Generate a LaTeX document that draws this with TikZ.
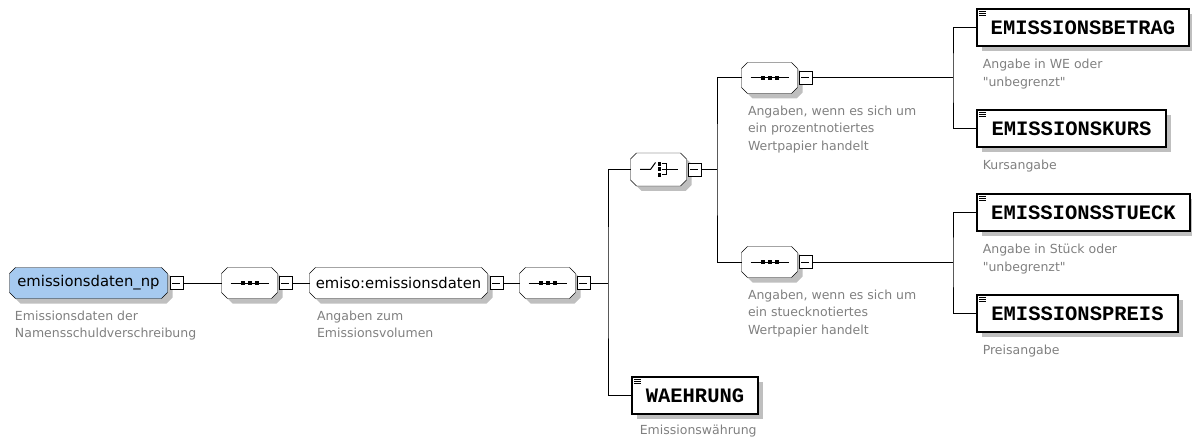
\documentclass[tikz,border=0pt]{standalone}
\usepackage{fontspec}
\setmainfont{DejaVu Sans}
\newfontfamily\elemfont{Liberation Mono}
\usetikzlibrary{positioning}
\usetikzlibrary{shadows}
\usetikzlibrary{backgrounds}
\usetikzlibrary{calc}
\definecolor{npblue}{RGB}{166,202,240}
\definecolor{notegray}{RGB}{128,128,128}
\newcommand{\octpath}[2]{([shift={#2},xshift=6pt]#1.north west) -- ([shift={#2},xshift=-6pt]#1.north east)
  -- ([shift={#2},yshift=-6pt]#1.north east) -- ([shift={#2},yshift=6pt]#1.south east)
  -- ([shift={#2},xshift=-6pt]#1.south east) -- ([shift={#2},xshift=6pt]#1.south west)
  -- ([shift={#2},yshift=6pt]#1.south west) -- ([shift={#2},yshift=-6pt]#1.north west) -- cycle}
\tikzset{
  shade/.style={drop shadow={shadow xshift=5pt,shadow yshift=-5pt,fill=black!25,opacity=1}},
  grp/.style={rectangle,minimum height=30pt,inner sep=0pt,font=\fontsize{14.8}{17}\selectfont},
  compositor/.style={grp,minimum width=55pt},
  minus/.style={draw,fill=white,line width=0.8pt,minimum size=13pt,inner sep=0pt},
  elem/.style={draw,fill=white,line width=1.4pt,minimum height=37pt,inner sep=0pt,
    font=\elemfont\bfseries\fontsize{20.5}{22}\selectfont,shade},
  note/.style={text=notegray,align=left,inner sep=0pt,font=\fontsize{12.5}{17.5}\selectfont},
}
\begin{document}
\begin{tikzpicture}[x=1pt,y=-1pt,line width=1pt]
  \useasboundingbox (0,0) rectangle (1192,441);
  \node[grp,minimum width=157pt] (np) at (88.5,283) {emissionsdaten\_np};
  \node[minus] (np-m) [right=2pt of np] {};
  \node[compositor] (seq1) at (249.5,283) {};
  \node[minus] (seq1-m) [right=1pt of seq1] {};
  \node[grp,minimum width=177pt] (emiso) at (398.5,283) {emiso:emissionsdaten};
  \node[minus] (emiso-m) [right=2pt of emiso] {};
  \node[compositor] (seq2) at (547.5,283) {};
  \node[minus] (seq2-m) [right=1pt of seq2] {};
  \node[compositor,minimum height=32pt] (choice) at (658.5,169.5) {};
  \node[minus] (choice-m) [right=1pt of choice] {};
  \node[compositor] (seqA) at (769.5,78) {};
  \node[minus] (seqA-m) [right=1pt of seqA] {};
  \node[compositor] (seqB) at (769.5,262) {};
  \node[minus] (seqB-m) [right=1pt of seqB] {};
  \node[elem,minimum width=212pt] (betrag) at (1083,27.5) {EMISSIONSBETRAG};
  \node[elem,minimum width=189pt] (kurs) at (1071.5,128.5) {EMISSIONSKURS};
  \node[elem,minimum width=213pt] (stueck) at (1083.5,212.5) {EMISSIONSSTUECK};
  \node[elem,minimum width=201pt] (preis) at (1077.5,313.5) {EMISSIONSPREIS};
  \node[elem,minimum width=126pt] (waehrung) at (695,395.5) {WAEHRUNG};

  \begin{scope}[on background layer]
    \foreach \g/\c in {np/npblue,seq1/white,emiso/white,seq2/white,choice/white,seqA/white,seqB/white} {
      \fill[black!25] \octpath{\g}{(5pt,-5pt)};
      \filldraw[fill=\c] \octpath{\g}{(0pt,0pt)};
    }
  \end{scope}

  \node[note,below right=12pt and 5pt of np.south west] (np-note) {Emissionsdaten der\\Namensschuldverschreibung};
  \node[note,below right=12pt and 7pt of emiso.south west] (emiso-note) {Angaben zum\\Emissionsvolumen};
  \node[note,below right=12pt and 6pt of seqA.south west] (seqA-note) {Angaben, wenn es sich um\\ein prozentnotiertes\\Wertpapier handelt};
  \node[note,below right=12pt and 6pt of seqB.south west] (seqB-note) {Angaben, wenn es sich um\\ein stuecknotiertes\\Wertpapier handelt};
  \node[note,below right=12pt and 6pt of betrag.south west] (betrag-note) {Angabe in WE oder\\\textquotedbl unbegrenzt\textquotedbl};
  \node[note,below right=12pt and 6pt of kurs.south west] (kurs-note) {Kursangabe};
  \node[note,below right=12pt and 6pt of stueck.south west] (stueck-note) {Angabe in Stück oder\\\textquotedbl unbegrenzt\textquotedbl};
  \node[note,below right=12pt and 6pt of preis.south west] (preis-note) {Preisangabe};
  \node[note,below right=10pt and 8pt of waehrung.south west] (waehrung-note) {Emissionswährung};

  \coordinate (j1) at (608,283);
  \coordinate (j2) at (717,169.5);
  \coordinate (j3) at (953,78);
  \coordinate (j4) at (953,262);
  \draw (np-m) -- (seq1);
  \draw (seq1-m) -- (emiso);
  \draw (emiso-m) -- (seq2);
  \draw (seq2-m) -- (j1);
  \draw (choice.west) -| (j1) |- (waehrung.west);
  \draw (choice-m) -- (j2);
  \draw (seqA.west) -| (j2) |- (seqB.west);
  \draw (seqA-m) -- (j3);
  \draw (betrag.west) -| (j3) |- (kurs.west);
  \draw (seqB-m) -- (j4);
  \draw (stueck.west) -| (j4) |- (preis.west);

  \foreach \m in {np-m,seq1-m,emiso-m,seq2-m,choice-m,seqA-m,seqB-m}
    \draw ([xshift=-4pt]\m.center) -- ([xshift=4pt]\m.center);
  \foreach \s in {seq1,seq2,seqA,seqB} {
    \draw ([xshift=-19pt]\s.center) -- ([xshift=19pt]\s.center);
    \foreach \d in {-7,0,7} \fill ($(\s)+(\d-2,-2)$) rectangle ++(4,4);
  }
  \foreach \e in {betrag,kurs,stueck,preis,waehrung}
    \foreach \k in {3,5,7} \draw[line width=0.7pt] ([xshift=3pt,yshift=-\k pt]\e.north west) -- ++(7pt,0);
  \draw ($(choice)+(-18.5,0)$) -- ($(choice)+(-8,0)$) -- ($(choice)+(-3,-7)$);
  \foreach \d in {-5.5,0,5.5} \fill ($(choice)+(-1,\d-2)$) rectangle ++(3,4);
  \draw ($(choice)+(3,-5.5)$) -- ($(choice)+(8,-5.5)$) -- ($(choice)+(8,5.5)$) -- ($(choice)+(3,5.5)$);
  \draw ($(choice)+(3,0)$) -- ($(choice)+(19,0)$);
\end{tikzpicture}
\end{document}
